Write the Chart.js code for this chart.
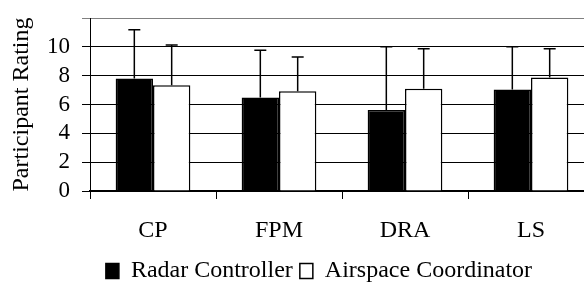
<!DOCTYPE html>
<html>
<head>
<meta charset="utf-8">
<script src="https://cdn.jsdelivr.net/npm/chart.js@4"></script>
<style>
  html, body { margin: 0; padding: 0; background: #fff; }
  #wrap { width: 584px; height: 283px; overflow: hidden; }
</style>
</head>
<body>
<div id="wrap"><canvas id="chart" width="620" height="283"></canvas></div>
<script>
// Data
const categories = ['CP', 'FPM', 'DRA', 'LS'];
const radarMeans = [7.8, 6.48, 5.61, 7.04];
const radarSD = [3.39, 3.28, 4.39, 2.96];
const airspaceMeans = [7.34, 6.92, 7.1, 7.87];
const airspaceSD = [2.78, 2.38, 2.77, 2.0];
const yTicks = [0, 2, 4, 6, 8, 10];
const yMax = 12;

Chart.defaults.color = '#000';
Chart.defaults.font.family = "'Liberation Serif', 'Times New Roman', serif";

// upper error bars on each bar
const errorBars = {
  id: 'errorBars',
  afterDatasetsDraw(chart) {
    const ctx = chart.ctx;
    const yScale = chart.scales.y;
    ctx.save();
    ctx.strokeStyle = '#000';
    ctx.lineWidth = 1.5;
    chart.data.datasets.forEach((ds, i) => {
      chart.getDatasetMeta(i).data.forEach((bar, j) => {
        const top = yScale.getPixelForValue(ds.data[j] + ds.errors[j]);
        ctx.beginPath();
        ctx.moveTo(bar.x, bar.y);
        ctx.lineTo(bar.x, top);
        ctx.moveTo(bar.x - 6, top);
        ctx.lineTo(bar.x + 6, top);
        ctx.stroke();
      });
    });
    ctx.restore();
  }
};

// move the legend to where the original one sits
const legendShift = {
  id: 'legendShift',
  afterLayout(chart) {
    const lg = chart.legend;
    lg.left += 22; lg.right += 22;
    lg.top += 10; lg.bottom += 10;
  }
};

new Chart(document.getElementById('chart'), {
  type: 'bar',
  data: {
    labels: categories,
    datasets: [
      {
        label: 'Radar Controller',
        data: radarMeans,
        errors: radarSD,
        backgroundColor: '#000',
        borderColor: '#000',
        borderWidth: 1.5
      },
      {
        label: 'Airspace Coordinator',
        data: airspaceMeans,
        errors: airspaceSD,
        backgroundColor: '#fff',
        borderColor: '#000',
        borderWidth: 1.5
      }
    ]
  },
  options: {
    responsive: false,
    animation: false,
    datasets: { bar: { categoryPercentage: 0.593, barPercentage: 1 } },
    layout: { padding: { top: 18, right: 26, bottom: 0, left: 0 } },
    plugins: {
      legend: {
        position: 'bottom',
        labels: { font: { size: 24 }, boxWidth: 13, boxHeight: 15, padding: 7 }
      },
      tooltip: { enabled: false }
    },
    scales: {
      x: {
        grid: { offset: true, drawOnChartArea: false, tickLength: 8, color: '#000', lineWidth: 1 },
        border: { color: '#000', width: 2 },
        ticks: { font: { size: 24 }, padding: 17 },
        afterFit(s) { s.height = 51; }
      },
      y: {
        min: 0,
        max: yMax,
        afterBuildTicks(s) { s.ticks = yTicks.concat([yMax]).map(v => ({ value: v })); },
        ticks: {
          font: { size: 23 },
          padding: 12,
          autoSkip: false,
          callback: v => yTicks.includes(v) ? v : ''
        },
        grid: {
          color: c => (c.tick && c.tick.value === yMax) ? '#808080' : '#000',
          tickLength: 8,
          lineWidth: 1
        },
        border: { color: '#000', width: 1 },
        title: { display: true, text: 'Participant Rating', font: { size: 24 }, padding: { top: 7, bottom: 0 } },
        afterFit(s) { s.width = 90; s.paddingTop = 0; s.paddingBottom = 0; }
      }
    }
  },
  plugins: [errorBars, legendShift]
});
</script>
</body>
</html>
